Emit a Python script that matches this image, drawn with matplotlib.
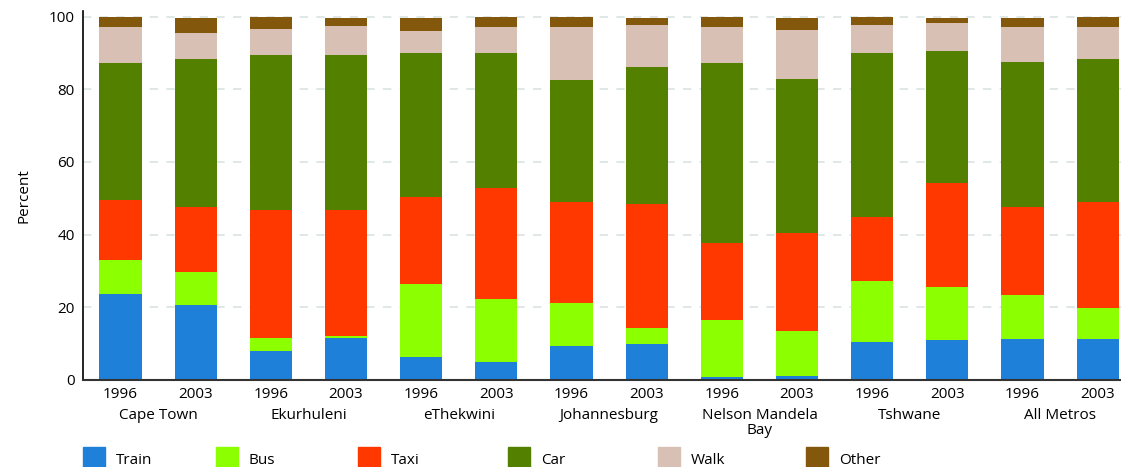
import matplotlib.pyplot as plt
import matplotlib.patches as mpatches
import numpy as np

plt.rcParams['font.family'] = ['Open Sans', 'DejaVu Sans']

cities = ["Cape Town", "Ekurhuleni", "eThekwini", "Johannesburg",
          "Nelson Mandela\nBay", "Tshwane", "All Metros"]
years = ["1996", "2003"]
modes = ["Train", "Bus", "Taxi", "Car", "Walk", "Other"]
colors = ["#1e80d8", "#8cff00", "#ff3800", "#548000", "#d8c0b5", "#84580c"]

# cumulative tops (bar order: city x year)
train_top = [23.7, 20.7, 8.0, 11.6, 6.3, 5.0, 9.4, 9.9, 0.8, 1.2, 10.5, 11.0, 11.3, 11.3]
bus_top   = [33.1, 29.7, 11.6, 12.1, 26.4, 22.3, 21.2, 14.3, 16.5, 13.6, 27.3, 25.6, 23.4, 19.8]
taxi_top  = [49.6, 47.7, 46.8, 46.8, 50.4, 52.9, 49.0, 48.5, 37.7, 40.5, 44.9, 54.2, 47.7, 49.1]
car_top   = [87.3, 88.4, 89.5, 89.5, 90.1, 90.1, 82.4, 86.2, 87.1, 82.9, 90.1, 90.6, 87.6, 88.4]
walk_top  = [97.2, 95.6, 96.7, 97.5, 96.1, 97.2, 97.2, 97.8, 97.2, 96.4, 97.8, 98.3, 97.0, 97.2]
other_top = [100, 99.7, 100, 99.7, 99.7, 100, 100, 99.7, 100, 99.7, 100, 99.7, 99.7, 100]

tops = np.array([train_top, bus_top, taxi_top, car_top, walk_top, other_top])
vals = np.diff(np.vstack([np.zeros(tops.shape[1]), tops]), axis=0)

fig = plt.figure(figsize=(11.21, 4.67), dpi=100)
ax = fig.add_axes([0.074, 0.1863, 0.926, 0.790])

x = np.arange(len(cities) * len(years))
bottom = np.zeros(len(x))
for i, m in enumerate(modes):
    ax.bar(x, vals[i], 0.56, bottom=bottom, color=colors[i], label=m, zorder=2)
    bottom += vals[i]

ax.set_xlim(-0.5, 13.31)
ax.set_ylim(0, 101.5)
ax.set_yticks([0, 20, 40, 60, 80, 100])
ax.yaxis.grid(True, linestyle=(0, (5, 5)), color="#dae3e3", linewidth=1.2, zorder=0)
ax.set_axisbelow(True)
ax.set_xticks(x)
ax.set_xticklabels(years * len(cities))
ax.tick_params(axis="both", length=0, labelsize=11)
ax.tick_params(axis="x", pad=5)
ax.tick_params(axis="y", pad=6)
for s in ["top", "right"]:
    ax.spines[s].set_visible(False)
ax.spines["left"].set_color("black")
ax.spines["left"].set_linewidth(1.2)
ax.spines["bottom"].set_color("#333333")
ax.spines["bottom"].set_linewidth(1.5)
ax.set_ylabel("Percent", fontsize=11, labelpad=12)

for k, c in enumerate(cities):
    ax.text(2 * k + 0.5, -7.6, c, ha="center", va="top", fontsize=11,
            linespacing=1.0, transform=ax.transData, clip_on=False)

# legend drawn in figure pixels
leg_x = [83, 216, 358, 508, 658, 806]
for i, m in enumerate(modes):
    fig.patches.append(mpatches.Rectangle((leg_x[i] / 1121, 0), 22 / 1121, 20 / 467,
                                          transform=fig.transFigure, color=colors[i]))
    fig.text((leg_x[i] + 33) / 1121, 7 / 467, m, fontsize=11, va="center")

fig.savefig("out.png", dpi=100)
